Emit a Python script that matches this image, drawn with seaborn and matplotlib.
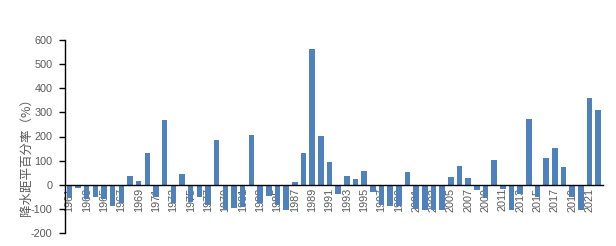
import matplotlib
matplotlib.use("Agg")
import matplotlib.pyplot as plt
import seaborn as sns
import pandas as pd
import numpy as np

years = list(range(1961, 2023))
values = [-55, -14, -58, -51, -60, -90, -75, 35, 14, 130,
          -50, 270, -75, 43, -70, -50, -85, 184, -105, -96,
          -92, 207, -75, -47, -84, -105, 10, 133, 564, 203,
          96, -37, 35, 22, 57, -30, -85, -90, -88, 53,
          -100, -106, -106, -106, 34, 76, 29, -21, -55, 104,
          -18, -106, -40, 274, -50, 112, 154, 73, -50, -106,
          361, 311]
y_ticks = [-200, -100, 0, 100, 200, 300, 400, 500, 600]
y_title = "降水距平百分率（%）"

sns.set_theme(style="white")
plt.rcParams['font.family'] = ['Liberation Sans', 'Noto Sans CJK SC', 'DejaVu Sans']

df = pd.DataFrame({"year": [str(y) for y in years], "value": values})

fig = plt.figure(figsize=(6.16, 2.46), dpi=100)
ax = fig.add_axes([65/616, (246-233)/246, (602.5-65)/616, (233-40)/246])

sns.barplot(data=df, x="year", y="value", color="#4F81BD", saturation=1,
            width=0.64, ax=ax, edgecolor="none")

ax.set_xlim(-0.5, len(years) - 0.5)
ax.set_ylim(-200, 600)
ax.set_yticks(y_ticks)
ax.set_yticklabels([str(t) for t in y_ticks], fontsize=7.8, color="#595959")

ax.spines['top'].set_visible(False)
ax.spines['right'].set_visible(False)
ax.spines['bottom'].set_position(('data', 0))
for s in ['left', 'bottom']:
    ax.spines[s].set_color('black')
    ax.spines[s].set_linewidth(1.0)

major_pos = list(range(0, len(years), 2))
ax.set_xticks(major_pos)
ax.set_xticklabels([str(years[i]) for i in major_pos], rotation=90,
                   fontsize=7.8, color="#595959", va="top")
ax.set_xticks(np.arange(-0.5, len(years), 1.0), minor=True)
ax.tick_params(axis='x', which='major', length=0, pad=2)
ax.tick_params(axis='x', which='minor', length=5, direction='inout',
               color='black', width=1)
ax.tick_params(axis='y', which='major', length=4, direction='out',
               color='black', width=1, left=True, pad=5)
ax.set_xlabel("")
ax.set_ylabel("")

fig.text(26/616, (246-154)/246, y_title, rotation=90, ha='center', va='center',
         fontsize=9, color="#595959",
         family=['Noto Sans CJK SC', 'DejaVu Sans'])

fig.savefig("out.png", dpi=100)
